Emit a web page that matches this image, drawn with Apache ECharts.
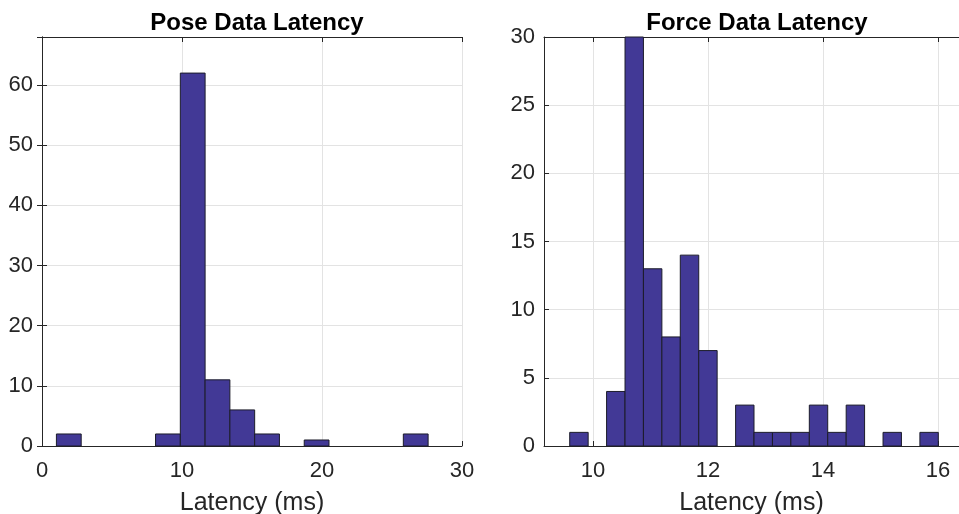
<!DOCTYPE html>
<html>
<head>
<meta charset="utf-8">
<script src="https://cdn.jsdelivr.net/npm/echarts@6/dist/echarts.min.js"></script>
<style>html,body{margin:0;padding:0;background:#fff;}#c{width:959px;height:514px;}</style>
</head>
<body>
<div id="c"></div>
<script>
// Pose histogram: bin edges (ms) and counts
const poseEdges = [1.03, 2.80, 4.57, 6.34, 8.11, 9.88, 11.65, 13.42, 15.19, 16.96, 18.73, 20.50, 22.27, 24.04, 25.81, 27.58];
const poseCounts = [2, 0, 0, 0, 2, 62, 11, 6, 2, 0, 1, 0, 0, 0, 2];
// Force histogram: bin edges (ms) and counts
const forceEdges = [9.595, 9.916, 10.236, 10.557, 10.877, 11.198, 11.518, 11.839, 12.159, 12.480, 12.800, 13.121, 13.441, 13.762, 14.082, 14.403, 14.723, 15.044, 15.364, 15.685, 16.005];
const forceCounts = [1, 0, 4, 34, 13, 8, 14, 7, 0, 3, 1, 1, 1, 3, 1, 3, 0, 1, 0, 1];
const titles = ['Pose Data Latency', 'Force Data Latency'];
const xName = 'Latency (ms)';

const FONT = '"Liberation Sans", Arial, Helvetica, sans-serif';
const AX = '#262626';
const GRIDC = '#e3e3e3';
const FILL = '#423996';
const EDGE = '#1c1c2a';

function toBins(edges, counts) {
  const out = [];
  for (let i = 0; i < counts.length; i++) {
    if (counts[i] > 0) out.push([edges[i], edges[i + 1], counts[i]]);
  }
  return out;
}

function renderItem(params, api) {
  const p0 = api.coord([api.value(0), api.value(2)]);
  const p1 = api.coord([api.value(1), 0]);
  const rect = echarts.graphic.clipRectByRect(
    { x: p0[0], y: p0[1], width: p1[0] - p0[0], height: p1[1] - p0[1] },
    { x: params.coordSys.x, y: params.coordSys.y, width: params.coordSys.width, height: params.coordSys.height }
  );
  if (!rect) return null;
  return { type: 'rect', shape: rect, style: { fill: FILL, stroke: EDGE, lineWidth: 1 } };
}

const chart = echarts.init(document.getElementById('c'), null, { renderer: 'canvas' });

function mainX(gi, min, max, step) {
  return {
    type: 'value', gridIndex: gi, min: min, max: max, position: 'bottom',
    minInterval: step, maxInterval: step,
    name: xName, nameLocation: 'middle', nameGap: 45,
    nameTextStyle: { fontFamily: FONT, fontSize: 25, color: AX },
    axisLine: { show: true, onZero: false, lineStyle: { color: AX, width: 1 } },
    axisTick: { show: true, inside: true, length: 5, lineStyle: { color: AX } },
    axisLabel: { fontFamily: FONT, fontSize: 22, color: AX, margin: 14,
      formatter: v => (Math.abs(v / step - Math.round(v / step)) < 1e-6 ? String(Math.round(v)) : '') },
    splitLine: { show: true, lineStyle: { color: GRIDC, width: 1 } }
  };
}
function topX(gi, min, max, step) {
  return {
    type: 'value', gridIndex: gi, min: min, max: max, position: 'top',
    minInterval: step, maxInterval: step,
    axisLine: { show: true, onZero: false, lineStyle: { color: AX, width: 1 } },
    axisTick: { show: true, inside: true, length: 5, lineStyle: { color: AX } },
    axisLabel: { show: false }, splitLine: { show: false }
  };
}
function mainY(gi, max, step) {
  return {
    type: 'value', gridIndex: gi, min: 0, max: max, interval: step, position: 'left',
    axisLine: { show: true, lineStyle: { color: AX, width: 1 } },
    axisTick: { show: true, inside: true, length: 5, lineStyle: { color: AX } },
    axisLabel: { fontFamily: FONT, fontSize: 22, color: AX, margin: 9,
      formatter: v => (v % step === 0 ? String(v) : '') },
    splitLine: { show: true, lineStyle: { color: GRIDC, width: 1 } }
  };
}
function rightY(gi, max, step) {
  return {
    type: 'value', gridIndex: gi, min: 0, max: max, interval: step, position: 'right',
    axisLine: { show: true, lineStyle: { color: AX, width: 1 } },
    axisTick: { show: true, inside: true, length: 5, lineStyle: { color: AX } },
    axisLabel: { show: false }, splitLine: { show: false }
  };
}

chart.setOption({
  animation: false,
  backgroundColor: '#ffffff',
  title: [
    { text: titles[0], left: 252, top: 6, textAlign: 'center',
      textStyle: { fontFamily: FONT, fontSize: 24, fontWeight: 'bold', color: '#000' } },
    { text: titles[1], left: 752, top: 6, textAlign: 'center',
      textStyle: { fontFamily: FONT, fontSize: 24, fontWeight: 'bold', color: '#000' } }
  ],
  grid: [
    { left: 42, top: 37, width: 420, height: 409, containLabel: false, outerBoundsMode: 'none' },
    { left: 544, top: 37, width: 415, height: 409, containLabel: false, outerBoundsMode: 'none' }
  ],
  xAxis: [
    mainX(0, 0, 30, 10),
    mainX(1, 9.148, 16.365, 2),
    topX(0, 0, 30, 10),
    topX(1, 9.148, 16.365, 2)
  ],
  yAxis: [
    mainY(0, 68, 10),
    mainY(1, 30, 5),
    rightY(0, 68, 10)
  ],
  series: [
    { type: 'custom', xAxisIndex: 0, yAxisIndex: 0, renderItem: renderItem,
      encode: { x: [0, 1], y: 2 }, data: toBins(poseEdges, poseCounts), z: 3 },
    { type: 'custom', xAxisIndex: 1, yAxisIndex: 1, renderItem: renderItem,
      encode: { x: [0, 1], y: 2 }, data: toBins(forceEdges, forceCounts), z: 3 }
  ]
});
</script>
</body>
</html>
